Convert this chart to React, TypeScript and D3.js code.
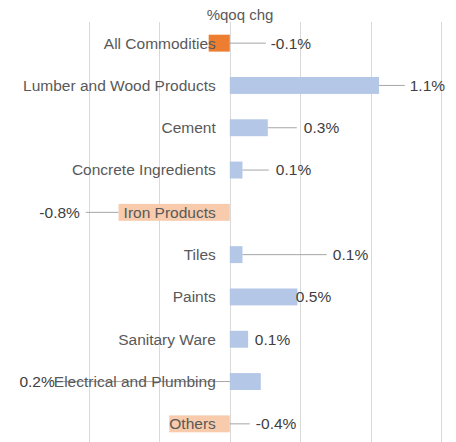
import React, { useEffect, useRef } from "react";
import * as d3 from "d3";

const categories = [
  "All Commodities",
  "Lumber and Wood Products",
  "Cement",
  "Concrete Ingredients",
  "Iron Products",
  "Tiles",
  "Paints",
  "Sanitary Ware",
  "Electrical and Plumbing",
  "Others",
];
const values = [-0.15, 1.06, 0.27, 0.09, -0.79, 0.09, 0.48, 0.13, 0.22, -0.43];
const valueLabels = ["-0.1%", "1.1%", "0.3%", "0.1%", "-0.8%", "0.1%", "0.5%", "0.1%", "0.2%", "-0.4%"];
const ticks = [-1, -0.5, 0, 0.5, 1, 1.5];

// where excel dragged each data label (in axis units); null = no leader line
const labelAt = [0.29, 1.278, 0.526, 0.327, -1.065, 0.732, 0.469, 0.178, -1.243, 0.185];
const leaderTo = [0.256, 1.243, 0.476, 0.277, -1.023, 0.689, null, null, -1.243, 0.142];

export default function App() {
  const ref = useRef<SVGSVGElement>(null);

  useEffect(() => {
    const width = 456,
      height = 442;
    const svg = d3.select(ref.current);
    svg.selectAll("*").remove();

    const x = d3.scaleLinear().domain([-1, 1.5]).range([89, 441]);
    const y = d3.scaleBand().domain(categories).range([22, 445]).paddingInner(0.6).paddingOuter(0.3);

    const font = "'Liberation Sans', Arial, sans-serif";

    svg
      .append("text")
      .attr("x", 240)
      .attr("y", 20)
      .attr("text-anchor", "middle")
      .attr("font-family", font)
      .attr("font-size", 15)
      .attr("fill", "#595959")
      .text("%qoq chg");

    svg
      .append("g")
      .selectAll("line")
      .data(ticks)
      .enter()
      .append("line")
      .attr("x1", (d) => Math.round(x(d)) + 0.5)
      .attr("x2", (d) => Math.round(x(d)) + 0.5)
      .attr("y1", 22)
      .attr("y2", height)
      .attr("stroke", "#d9d9d9")
      .attr("stroke-width", 1);

    const color = (d: number, i: number) => (i === 0 ? "#ED7D31" : d < 0 ? "#F8CBAD" : "#B4C7E7");

    svg
      .append("g")
      .selectAll("rect")
      .data(values)
      .enter()
      .append("rect")
      .attr("x", (d) => x(Math.min(0, d)))
      .attr("width", (d) => Math.abs(x(d) - x(0)))
      .attr("y", (d, i) => y(categories[i])!)
      .attr("height", y.bandwidth())
      .attr("fill", color);

    // leader lines
    svg
      .append("g")
      .selectAll("line")
      .data(values.map((v, i) => ({ v, i, to: leaderTo[i] })).filter((d) => d.to !== null))
      .enter()
      .append("line")
      .attr("x1", (d) => (d.to! > 0 ? x(Math.max(0, d.v)) : x(Math.min(0, d.v))))
      .attr("x2", (d) => x(d.to!))
      .attr("y1", (d) => y(categories[d.i])! + y.bandwidth() / 2)
      .attr("y2", (d) => y(categories[d.i])! + y.bandwidth() / 2)
      .attr("stroke", "#a6a6a6")
      .attr("stroke-width", 1);

    // category labels
    svg
      .append("g")
      .selectAll("text")
      .data(categories)
      .enter()
      .append("text")
      .attr("x", x(0) - 14)
      .attr("y", (d) => y(d)! + y.bandwidth() / 2)
      .attr("dy", "0.35em")
      .attr("text-anchor", "end")
      .attr("font-family", font)
      .attr("font-size", 15.5)
      .attr("fill", "#595959")
      .text((d) => d);

    // value labels
    svg
      .append("g")
      .selectAll("text")
      .data(valueLabels)
      .enter()
      .append("text")
      .attr("x", (d, i) => x(labelAt[i]))
      .attr("y", (d, i) => y(categories[i])! + y.bandwidth() / 2)
      .attr("dy", "0.35em")
      .attr("text-anchor", (d, i) => (labelAt[i] < 0 ? "end" : "start"))
      .attr("font-family", font)
      .attr("font-size", 15.5)
      .attr("fill", "#404040")
      .text((d) => d);

    svg.attr("width", width).attr("height", height);
  }, []);

  return (
    <div style={{ position: "absolute", left: 0, top: 0, background: "#fff" }}>
      <svg ref={ref} width={456} height={442} style={{ display: "block" }} />
    </div>
  );
}
